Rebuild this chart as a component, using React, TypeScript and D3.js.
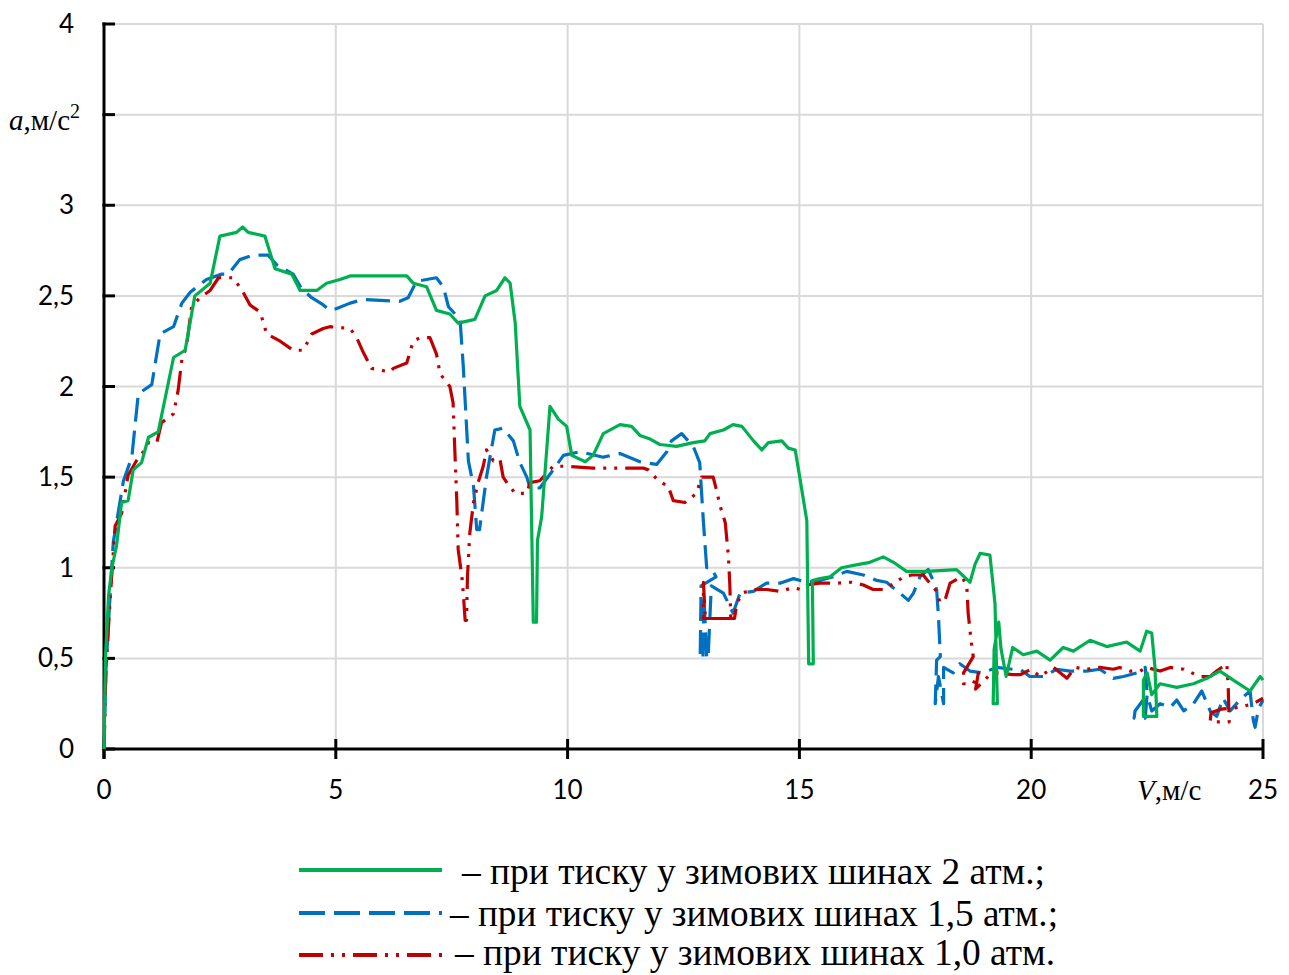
import React from "react";
import * as d3 from "d3";

// ---- data (V, m/s ; a, m/s^2) ----
const yTickValues = [0, 0.5, 1, 1.5, 2, 2.5, 3, 3.5, 4];
const yTickLabels = ["0", "0,5", "1", "1,5", "2", "2,5", "3", "", "4"];
const xTickValues = [0, 5, 10, 15, 20, 25];
const xTickLabels = ["0", "5", "10", "15", "20", "25"];

const legendLabels = [
  "– при тиску у зимових шинах 2 атм.;",
  "– при тиску у зимових шинах 1,5 атм.;",
  "– при тиску у зимових шинах 1,0 атм.",
];

const series2atm: [number, number][] = [
  [0, 0], [0.03, 0.5], [0.1, 0.85], [0.17, 1.0], [0.27, 1.12], [0.38, 1.36], [0.52, 1.37],
  [0.63, 1.54], [0.81, 1.58], [0.96, 1.72], [1.17, 1.75], [1.5, 2.16], [1.75, 2.2], [1.96, 2.5],
  [2.29, 2.57], [2.5, 2.83], [2.86, 2.85], [2.99, 2.88], [3.11, 2.85], [3.47, 2.83], [3.69, 2.65],
  [4.05, 2.62], [4.23, 2.53], [4.59, 2.53], [4.8, 2.57], [5.09, 2.59], [5.31, 2.61], [6.53, 2.61],
  [6.67, 2.57], [6.96, 2.55], [7.17, 2.42], [7.46, 2.4], [7.64, 2.35], [8.0, 2.37], [8.22, 2.5],
  [8.47, 2.53], [8.65, 2.6], [8.76, 2.57], [8.87, 2.35], [8.97, 1.89], [9.19, 1.76], [9.26, 0.7],
  [9.33, 0.7], [9.35, 1.15], [9.44, 1.28], [9.62, 1.89], [9.8, 1.82], [9.98, 1.78], [10.09, 1.62],
  [10.38, 1.585], [10.55, 1.62], [10.77, 1.74], [11.13, 1.79], [11.38, 1.78], [11.56, 1.73],
  [11.78, 1.71], [11.99, 1.68], [12.35, 1.67], [12.71, 1.69], [12.96, 1.7], [13.07, 1.74],
  [13.36, 1.76], [13.57, 1.79], [13.76, 1.78], [14.01, 1.7], [14.19, 1.65], [14.33, 1.69],
  [14.62, 1.7], [14.76, 1.66], [14.91, 1.65], [15.02, 1.48], [15.16, 1.26], [15.2, 0.47],
  [15.3, 0.47], [15.28, 0.93], [15.44, 0.94], [15.66, 0.95], [15.91, 1.0], [16.31, 1.02],
  [16.52, 1.03], [16.81, 1.06], [17.03, 1.03], [17.31, 0.98], [17.74, 0.98], [18.39, 0.99],
  [18.68, 0.92], [18.79, 1.02], [18.9, 1.08], [19.11, 1.07], [19.22, 0.8], [19.27, 0.25],
  [19.18, 0.25], [19.2, 0.55], [19.3, 0.7], [19.35, 0.55], [19.46, 0.4], [19.6, 0.56],
  [19.83, 0.52], [20.12, 0.54], [20.41, 0.49], [20.69, 0.56], [20.91, 0.54], [21.27, 0.6],
  [21.63, 0.565], [22.06, 0.59], [22.35, 0.54], [22.49, 0.65], [22.6, 0.64], [22.67, 0.45],
  [22.71, 0.18], [22.42, 0.18], [22.42, 0.38], [22.5, 0.42], [22.6, 0.3], [22.78, 0.36],
  [23.14, 0.34], [23.5, 0.36], [23.79, 0.39], [24.07, 0.43], [24.36, 0.38], [24.72, 0.32],
  [24.94, 0.4], [25, 0.38],
];

const series15atm: [number, number][] = [
  [0, 0], [0.04, 0.42], [0.09, 0.67], [0.2, 1.14], [0.42, 1.48], [0.6, 1.61], [0.74, 1.96],
  [1.03, 2.01], [1.21, 2.29], [1.5, 2.33], [1.68, 2.46], [1.86, 2.52], [2.21, 2.59], [2.54, 2.62],
  [2.68, 2.62], [2.93, 2.7], [3.22, 2.725], [3.54, 2.725], [3.73, 2.67], [4.08, 2.62],
  [4.26, 2.54], [4.48, 2.49], [4.73, 2.45], [4.87, 2.42], [5.02, 2.43], [5.31, 2.46],
  [5.59, 2.48], [6.38, 2.47], [6.56, 2.49], [6.74, 2.58], [7.17, 2.6], [7.32, 2.55], [7.43, 2.44],
  [7.68, 2.37], [7.75, 2.11], [7.86, 1.59], [7.97, 1.45], [8.04, 1.21], [8.1, 1.21], [8.25, 1.5],
  [8.43, 1.76], [8.61, 1.77], [8.83, 1.7], [8.97, 1.58], [9.12, 1.5], [9.19, 1.44], [9.4, 1.44],
  [9.66, 1.53], [9.91, 1.62], [10.27, 1.64], [10.77, 1.61], [11.13, 1.63], [11.56, 1.585],
  [11.92, 1.57], [12.14, 1.64], [12.24, 1.7], [12.46, 1.74], [12.6, 1.7], [12.71, 1.67],
  [12.85, 1.58], [12.93, 1.25], [13.0, 1.0], [13.1, 1.0], [13.2, 0.95], [12.88, 0.9],
  [12.86, 0.5], [12.92, 0.5], [12.94, 0.85], [13.0, 0.5], [13.03, 0.5], [13.1, 0.9],
  [13.36, 0.86], [13.57, 0.75], [13.72, 0.86], [14.01, 0.87], [14.29, 0.915], [14.58, 0.915],
  [14.87, 0.94], [15.16, 0.92], [15.44, 0.93], [15.73, 0.95], [16.02, 0.98], [16.38, 0.96],
  [16.67, 0.93], [16.88, 0.92], [17.17, 0.86], [17.35, 0.82], [17.46, 0.86], [17.6, 0.95],
  [17.78, 0.99], [17.85, 0.95], [17.96, 0.88], [18.0, 0.73], [18.04, 0.51], [17.96, 0.49],
  [17.93, 0.25], [18.0, 0.4], [18.11, 0.25], [18.11, 0.45], [18.32, 0.42], [18.46, 0.47],
  [18.68, 0.43], [18.96, 0.42], [19.25, 0.45], [19.6, 0.44], [19.76, 0.44], [19.97, 0.4],
  [20.26, 0.4], [20.55, 0.44], [20.84, 0.43], [21.19, 0.43], [21.48, 0.44], [21.77, 0.39],
  [21.99, 0.4], [22.28, 0.42], [22.46, 0.45], [22.5, 0.3], [22.24, 0.21], [22.22, 0.17],
  [22.46, 0.17], [22.5, 0.3], [22.6, 0.21], [22.78, 0.25], [23.0, 0.23], [23.14, 0.27],
  [23.29, 0.21], [23.5, 0.25], [23.68, 0.32], [23.86, 0.21], [24.0, 0.18], [24.14, 0.28],
  [24.29, 0.21], [24.5, 0.27], [24.72, 0.32], [24.79, 0.16], [24.83, 0.12], [24.9, 0.22],
  [25, 0.27],
];

const series10atm: [number, number][] = [
  [0, 0], [0.04, 0.42], [0.13, 0.82], [0.24, 1.23], [0.38, 1.3], [0.52, 1.51], [0.7, 1.59],
  [0.85, 1.64], [0.96, 1.69], [1.14, 1.69], [1.24, 1.8], [1.5, 1.85], [1.6, 1.98], [1.68, 2.15],
  [1.78, 2.22], [1.89, 2.44], [2.07, 2.49], [2.29, 2.53], [2.47, 2.6], [2.79, 2.6], [3.0, 2.52],
  [3.15, 2.45], [3.37, 2.41], [3.51, 2.29], [3.8, 2.25], [4.08, 2.2], [4.3, 2.2], [4.48, 2.29],
  [4.73, 2.32], [4.87, 2.33], [5.31, 2.32], [5.45, 2.27], [5.59, 2.19], [5.77, 2.1],
  [6.17, 2.08], [6.24, 2.1], [6.53, 2.13], [6.67, 2.25], [6.82, 2.27], [7.03, 2.27],
  [7.17, 2.18], [7.25, 2.07], [7.46, 2.0], [7.53, 1.91], [7.57, 1.63], [7.61, 1.37],
  [7.64, 1.1], [7.72, 0.95], [7.75, 0.86], [7.79, 0.71], [7.82, 0.71], [7.84, 0.95],
  [7.89, 1.19], [7.97, 1.36], [8.07, 1.47], [8.18, 1.56], [8.25, 1.65], [8.4, 1.59],
  [8.54, 1.6], [8.61, 1.5], [8.69, 1.47], [8.87, 1.41], [9.12, 1.41], [9.19, 1.47], [9.4, 1.48],
  [9.69, 1.56], [9.98, 1.56], [10.55, 1.55], [11.63, 1.55], [11.74, 1.54], [11.96, 1.48],
  [12.17, 1.45], [12.28, 1.37], [12.53, 1.36], [12.78, 1.41], [12.89, 1.5], [13.14, 1.5],
  [13.21, 1.43], [13.29, 1.34], [13.4, 1.25], [13.47, 1.06], [13.5, 0.9], [13.52, 0.72],
  [12.93, 0.72], [12.93, 0.92], [12.97, 0.72], [13.6, 0.72], [13.65, 0.8], [13.76, 0.86],
  [14.01, 0.88], [14.29, 0.88], [14.58, 0.87], [14.87, 0.89], [15.02, 0.88], [15.16, 0.905],
  [15.44, 0.915], [15.8, 0.915], [16.13, 0.92], [16.38, 0.905], [16.59, 0.88], [16.81, 0.88],
  [17.06, 0.915], [17.24, 0.95], [17.42, 0.96], [17.67, 0.96], [17.96, 0.87], [18.03, 0.81],
  [18.14, 0.82], [18.25, 0.915], [18.5, 0.95], [18.61, 0.905], [18.64, 0.75], [18.72, 0.56],
  [18.75, 0.51], [18.54, 0.42], [18.54, 0.36], [18.75, 0.36], [18.86, 0.42], [18.8, 0.33],
  [19.07, 0.4], [19.29, 0.42], [19.6, 0.41], [19.76, 0.41], [20.0, 0.44], [20.19, 0.4],
  [20.48, 0.45], [20.77, 0.39], [20.95, 0.45], [21.19, 0.44], [21.48, 0.45], [21.77, 0.44],
  [21.91, 0.45], [22.13, 0.43], [22.35, 0.43], [22.49, 0.45], [22.78, 0.43], [23.0, 0.45],
  [23.29, 0.44], [23.64, 0.4], [23.86, 0.4], [24.0, 0.43], [24.22, 0.47], [24.25, 0.34],
  [24.27, 0.15], [23.86, 0.15], [23.88, 0.2], [24.1, 0.22], [24.5, 0.23], [24.79, 0.25],
  [25, 0.28],
];

const GREEN = "#00b050";
const BLUE = "#0070c0";
const RED = "#c00000";
const GRID = "#d9d9d9";
const NUM_FONT = "Lato, 'Open Sans', sans-serif";
const SERIF = "'Liberation Serif', 'DejaVu Serif', serif";

export default function App() {
  const W = 1289;
  const H = 975;
  const x = d3.scaleLinear().domain([0, 25]).range([104, 1263]);
  const y = d3.scaleLinear().domain([0, 4]).range([749, 24]);
  const line = d3
    .line<[number, number]>()
    .x((d) => x(d[0]))
    .y((d) => y(d[1]));

  const curves = [
    { data: series15atm, color: BLUE, dash: "24,9" },
    { data: series10atm, color: RED, dash: "24,8,3,8,3,8" },
    { data: series2atm, color: GREEN, dash: undefined as string | undefined },
  ];

  const legend = [
    { color: GREEN, dash: undefined as string | undefined, ly: 870, tx: 462, tEnd: 1045, ty: 884 },
    { color: BLUE, dash: "26,9", ly: 913, tx: 450, tEnd: 1058, ty: 926 },
    { color: RED, dash: "24,8,3,8,3,8", ly: 955, tx: 455, tEnd: 1055, ty: 965 },
  ];

  return (
    <svg
      width={W}
      height={H}
      style={{ position: "absolute", left: 0, top: 0, background: "#fff" }}
    >
      <rect x={0} y={0} width={W} height={H} fill="#fff" />
      {/* grid */}
      {yTickValues.slice(1).map((v) => (
        <line key={"gy" + v} x1={x(0)} x2={x(25)} y1={y(v)} y2={y(v)} stroke={GRID} strokeWidth={2} />
      ))}
      {xTickValues.slice(1).map((v) => (
        <line key={"gx" + v} x1={x(v)} x2={x(v)} y1={y(4)} y2={y(0)} stroke={GRID} strokeWidth={2} />
      ))}
      {/* axes */}
      <line x1={x(0)} x2={x(0)} y1={y(4) - 1.5} y2={y(0) + 10} stroke="#000" strokeWidth={3} />
      <line x1={x(0)} x2={x(25)} y1={y(0)} y2={y(0)} stroke="#000" strokeWidth={3} />
      {yTickValues.map((v) => (
        <line key={"ty" + v} x1={x(0) - 1.5} x2={x(0) + 11} y1={y(v)} y2={y(v)} stroke="#000" strokeWidth={3} />
      ))}
      {xTickValues.map((v) => (
        <line key={"tx" + v} x1={x(v)} x2={x(v)} y1={y(0) - 10} y2={y(0) + 10} stroke="#000" strokeWidth={3} />
      ))}
      {/* tick labels */}
      {yTickValues.map((v, i) =>
        yTickLabels[i] ? (
          <text key={"ly" + v} x={74} y={y(v) + 9} textAnchor="end" fontFamily={NUM_FONT} fontSize={26} fill="#000">
            {yTickLabels[i]}
          </text>
        ) : null
      )}
      {xTickValues.map((v, i) => (
        <text key={"lx" + v} x={x(v)} y={799} textAnchor="middle" fontFamily={NUM_FONT} fontSize={26} fill="#000">
          {xTickLabels[i]}
        </text>
      ))}
      {/* axis titles */}
      <text x={9} y={130} fontFamily={SERIF} fontSize={29} fill="#000">
        <tspan fontStyle="italic">a</tspan>
        <tspan>,м/с</tspan>
        <tspan fontSize={20} dy={-12}>2</tspan>
      </text>
      <text x={1137} y={800} fontFamily={SERIF} fontSize={29} fill="#000">
        <tspan fontStyle="italic">V</tspan>
        <tspan>,м/с</tspan>
      </text>
      {/* curves */}
      {curves.map((c, i) => (
        <path
          key={"c" + i}
          d={line(c.data) || ""}
          fill="none"
          stroke={c.color}
          strokeWidth={3.2}
          strokeDasharray={c.dash}
          strokeLinejoin="round"
        />
      ))}
      {/* legend */}
      {legend.map((l, i) => (
        <g key={"lg" + i}>
          <line x1={299} x2={442} y1={l.ly} y2={l.ly} stroke={l.color} strokeWidth={4} strokeDasharray={l.dash} />
          <text
            x={l.tx}
            y={l.ty}
            fontFamily={SERIF}
            fontSize={37}
            fill="#000"
            textLength={l.tEnd - l.tx}
            lengthAdjust="spacingAndGlyphs"
          >
            {legendLabels[i]}
          </text>
        </g>
      ))}
    </svg>
  );
}
